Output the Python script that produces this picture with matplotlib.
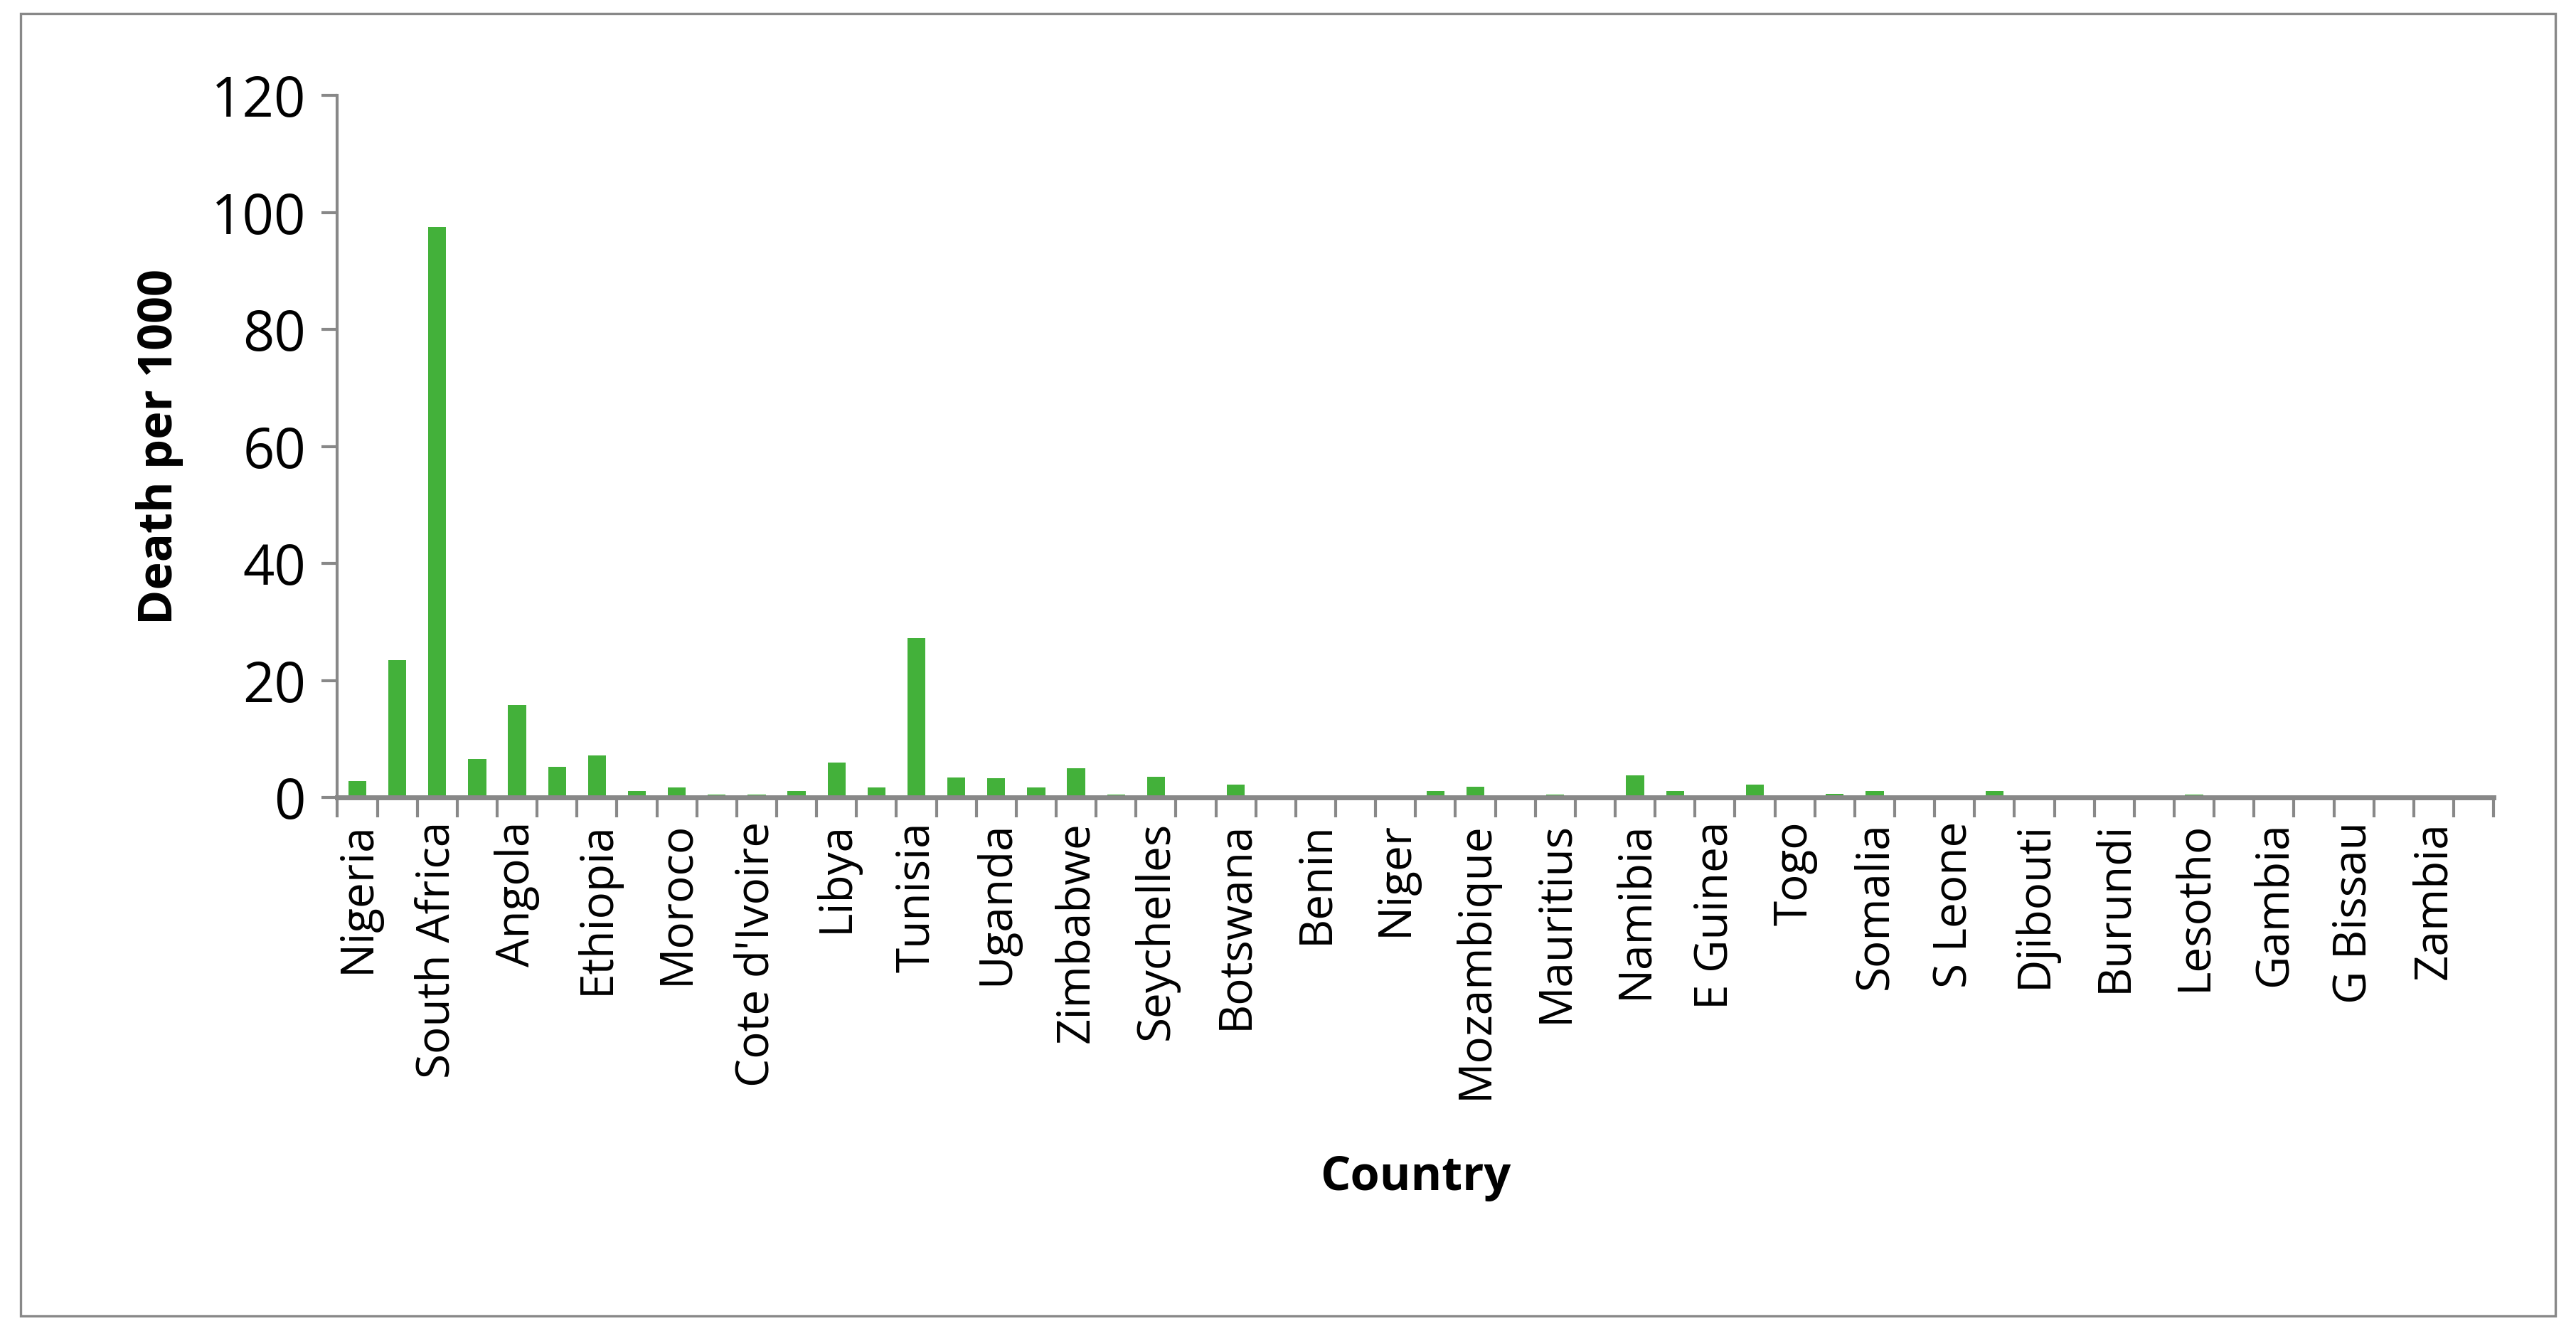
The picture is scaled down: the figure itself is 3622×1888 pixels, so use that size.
import matplotlib
matplotlib.use("Agg")
import matplotlib.pyplot as plt
from matplotlib.patches import Rectangle
import numpy as np

countries = ["Nigeria", "Kenya", "South Africa", "Ghana", "Angola", "Egypt", "Ethiopia", "Cameroon",
             "Moroco", "Senegal", "Cote d'Ivoire", "Algeria", "Libya", "Madagascar", "Tunisia", "Gabon",
             "Uganda", "Rwanda", "Zimbabwe", "Mali", "Seychelles", "Tanzania", "Botswana", "Chad",
             "Benin", "Eritrea", "Niger", "Congo", "Mozambique", "Liberia", "Mauritius", "Malawi",
             "Namibia", "Sudan", "E Guinea", "DRC", "Togo", "Burkina Faso", "Somalia", "Guinea",
             "S Leone", "Eswatini", "Djibouti", "Cape Verde", "Burundi", "CAR", "Lesotho", "Mauritania",
             "Gambia", "Comoros", "G Bissau", "S Sudan", "Zambia", "Sao Tome"]
deaths = [2.9, 23.5, 97.5, 6.6, 15.8, 5.3, 7.2, 1.2,
          1.7, 0.6, 0.6, 1.1, 6.0, 1.7, 27.3, 3.5,
          3.3, 1.7, 5.1, 0.5, 3.6, 0.1, 2.3, 0.1,
          0.0, 0.25, 0.1, 1.1, 1.9, 0.0, 0.5, 0.1,
          3.8, 1.2, 0.0, 2.3, 0.0, 0.7, 1.1, 0.0,
          0.0, 1.1, 0.0, 0.0, 0.0, 0.0, 0.5, 0.0,
          0.1, 0.1, 0.0, 0.0, 0.0, 0.0]

plt.rcParams['font.family'] = ['Open Sans', 'DejaVu Sans']
fig = plt.figure(figsize=(18.11, 9.44), dpi=200)
fig.patches.append(Rectangle((0.008, 0.02), 0.984, 0.97, transform=fig.transFigure,
                             fill=False, edgecolor='#888888', lw=1.2))
ax = fig.add_axes([0.131, 0.406, 0.837, 0.523])
x = np.arange(len(countries))
ax.bar(x, deaths, width=0.45, color='#43B13A')
ax.set_xlim(-0.5, len(countries) - 0.5)
ax.set_ylim(0, 120)
ax.set_yticks(range(0, 121, 20))
ax.set_xticks(x[::2])
ax.set_xticklabels(countries[::2], rotation=90, fontsize=23)
ax.set_xticks(np.arange(-0.5, len(countries), 1), minor=True)
ax.tick_params(axis='x', which='major', length=0, pad=12)
ax.tick_params(axis='x', which='minor', length=10, width=1.5, color='#888888')
ax.tick_params(axis='y', labelsize=28, length=8, width=1.5, color='#888888', pad=8)
for s in ['top', 'right']:
    ax.spines[s].set_visible(False)
ax.spines['left'].set_color('#888888')
ax.spines['bottom'].set_color('#888888')
ax.spines['left'].set_linewidth(1.5)
ax.spines['bottom'].set_linewidth(2.5)
ax.set_ylabel('Death per 1000', fontsize=24, fontweight='bold', labelpad=14)
ax.set_xlabel('Country', fontsize=24, fontweight='bold', labelpad=28)
fig.savefig('out.png', dpi=200)
